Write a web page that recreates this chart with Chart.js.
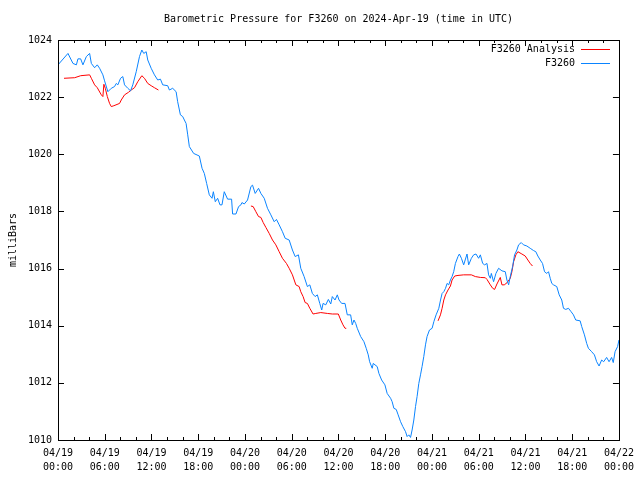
<!DOCTYPE html>
<html>
<head>
<meta charset="utf-8">
<script src="https://cdn.jsdelivr.net/npm/chart.js@4"></script>
<style>
  body { margin: 0; background: #fff; }
  canvas { display: block; }
</style>
</head>
<body>
<canvas id="myChart" width="640" height="480"></canvas>
<script>
// hours since 04/19 00:00 UTC
const blueHours = [
  0, 1.28, 1.92, 2.36, 2.56, 2.91, 3.2, 3.64, 4.06, 4.28, 4.7, 5.04, 5.34, 5.76, 5.98,
  6.4, 6.84, 7.26, 7.48, 7.68, 8.03, 8.32, 8.54, 8.96, 9.31, 9.6, 10.04, 10.46, 10.76,
  11.01, 11.32, 11.52, 11.96, 12.38, 12.8, 13.15, 13.44, 14.08, 14.3, 14.72, 15.16,
  15.36, 15.71, 16.01, 16.22, 16.44, 16.65, 16.86, 17.41, 18.14, 18.49, 18.78, 19.08,
  19.42, 19.77, 19.94, 20.19, 20.49, 20.79, 21.05, 21.34, 21.77, 22.28, 22.41, 22.84,
  23.18, 23.48, 23.61, 23.91, 24.33, 24.76, 24.97, 25.31, 25.74, 26.04, 26.47, 26.89,
  27.32, 27.75, 28.04, 28.39, 28.81, 29.16, 29.67, 30.09, 30.44, 30.86, 31.16, 31.59,
  32.01, 32.32, 32.65, 33.0, 33.29, 33.6, 33.85, 34.02, 34.37, 34.7, 35.01, 35.21,
  35.56, 35.85, 36.07, 36.41, 36.84, 37.13, 37.56, 37.77, 37.99, 38.21, 38.41, 38.85,
  39.27, 39.56, 39.82, 40.0, 40.33, 40.46, 40.97, 41.19, 41.54, 41.96, 42.25, 42.69,
  42.89, 43.11, 43.41, 43.66, 43.97, 44.26, 44.61, 44.81, 45.03, 45.25, 45.45, 45.67,
  45.89, 46.09, 46.31, 46.53, 46.73, 46.95, 47.17, 47.37, 47.68, 48.02, 48.24, 48.53,
  48.88, 49.1, 49.3, 49.52, 49.74, 49.94, 50.15, 50.37, 50.58, 50.79, 51.01, 51.34,
  51.52, 51.78, 52.07, 52.5, 52.71, 53.06, 53.35, 53.65, 53.99, 54.21, 54.51, 54.76,
  55.06, 55.27, 55.49, 55.62, 55.91, 56.21, 56.55, 56.98, 57.41, 57.62, 57.84, 58.05,
  58.35, 58.6, 58.9, 59.12, 59.46, 59.75, 60.18, 60.61, 61.04, 61.33, 61.59, 61.9,
  62.19, 62.45, 62.74, 62.96, 63.18, 63.38, 63.6, 64.02, 64.33, 64.66, 64.88, 65.17,
  65.52, 65.86, 66.16, 66.45, 67.02, 67.22, 67.57, 67.86, 68.08, 68.5, 68.85, 69.14,
  69.45, 69.78, 70.04, 70.42, 70.73, 71.06, 71.27, 71.5, 71.83, 72
];
const bluePressure = [
  1023.13, 1023.53, 1023.18, 1023.13, 1023.34, 1023.34, 1023.13, 1023.42, 1023.53, 1023.18, 1023.03, 1023.13, 1023.01, 1022.78, 1022.57,
  1022.19, 1022.31, 1022.37, 1022.48, 1022.43, 1022.66, 1022.72, 1022.43, 1022.31, 1022.22, 1022.43, 1022.89, 1023.42, 1023.65,
  1023.53, 1023.59, 1023.30, 1023.01, 1022.78, 1022.60, 1022.63, 1022.43, 1022.40, 1022.25, 1022.31, 1022.19,
  1021.84, 1021.38, 1021.32, 1021.20, 1021.08, 1020.68, 1020.27, 1020.03, 1019.94, 1019.51, 1019.33, 1018.98,
  1018.58, 1018.46, 1018.69, 1018.34, 1018.46, 1018.23, 1018.23, 1018.69, 1018.43, 1018.43, 1017.91, 1017.91,
  1018.17, 1018.23, 1018.31, 1018.26, 1018.40, 1018.87, 1018.92, 1018.63, 1018.81, 1018.63, 1018.46, 1018.11,
  1017.88, 1017.64, 1017.72, 1017.53, 1017.29, 1017.06, 1017.00, 1016.65, 1016.42, 1016.48, 1016.01, 1015.72,
  1015.37, 1015.43, 1015.13, 1015.02, 1015.08, 1014.78, 1014.55, 1014.78, 1014.73, 1014.92, 1014.76, 1015.02,
  1014.90, 1015.08, 1014.90, 1014.78, 1014.78, 1014.38, 1014.38, 1014.03, 1014.20, 1014.08, 1013.91, 1013.62,
  1013.44, 1013.21, 1012.98, 1012.74, 1012.51, 1012.68, 1012.57, 1012.33, 1012.10, 1011.93, 1011.63, 1011.46,
  1011.34, 1011.11, 1011.07, 1010.88, 1010.64, 1010.47, 1010.29, 1010.12, 1010.18, 1010.09, 1010.35, 1010.70,
  1011.17, 1011.52, 1011.98, 1012.28, 1012.57, 1012.92, 1013.33, 1013.62, 1013.85, 1013.91, 1014.14, 1014.38,
  1014.61, 1014.90, 1015.13, 1015.19, 1015.31, 1015.48, 1015.43, 1015.60, 1015.72, 1015.89, 1016.18, 1016.42,
  1016.51, 1016.36, 1016.13, 1016.51, 1016.13, 1016.36, 1016.48, 1016.51, 1016.36, 1016.48, 1016.18, 1016.13,
  1016.18, 1015.78, 1015.66, 1015.83, 1015.54, 1015.83, 1016.01, 1015.92, 1015.89, 1015.60, 1015.43, 1015.72,
  1016.07, 1016.48, 1016.65, 1016.83, 1016.91, 1016.83, 1016.79, 1016.71, 1016.63, 1016.59, 1016.44, 1016.30,
  1016.18, 1015.89, 1015.83, 1015.89, 1015.66, 1015.48, 1015.43, 1015.37, 1015.08, 1014.90, 1014.61, 1014.57,
  1014.61, 1014.49, 1014.38, 1014.20, 1014.17, 1013.97, 1013.68, 1013.38, 1013.21, 1013.09, 1012.98, 1012.74,
  1012.59, 1012.80, 1012.74, 1012.89, 1012.74, 1012.89, 1012.71, 1013.09, 1013.27, 1013.50
];

// analysis runs, null marks a gap between runs
const redHours = [
  0.77, 2.14, 2.91, 4.06, 4.28, 4.7, 5.04, 5.56, 5.76, 5.89, 6.07, 6.33, 6.62, 6.84,
  7.17, 7.9, 8.12, 8.54, 9.05, 9.4, 9.82, 10.24, 10.76, 11.1, 11.52, 11.96, 12.38, 12.89,
  18,
  24.76, 25.05, 25.4, 25.74, 26.04, 26.34, 26.68, 27.11, 27.53, 27.96, 28.39, 28.81,
  29.32, 29.67, 30.09, 30.53, 30.95, 31.16, 31.46, 31.72, 32.01, 32.32, 32.74, 33.09,
  33.73, 34.57, 35.21, 35.98, 36.29, 36.58, 36.84, 37.0,
  42,
  48.78, 49.09, 49.3, 49.52, 49.74, 50.06, 50.37, 50.58, 50.92, 51.34, 52.07, 53.06,
  53.57, 54.21, 54.85, 55.06, 55.49, 55.79, 56.04, 56.34, 56.77, 56.98, 57.28, 57.62,
  58.05, 58.26, 58.48, 58.77, 59.03, 59.54, 59.97, 60.31, 60.61, 60.9
];
const redPressure = [
  1022.66, 1022.68, 1022.75, 1022.78, 1022.66, 1022.43, 1022.33, 1022.08, 1022.02, 1022.45, 1022.31, 1022.02, 1021.78, 1021.67,
  1021.70, 1021.78, 1021.90, 1022.08, 1022.17, 1022.25, 1022.33, 1022.54, 1022.75, 1022.66, 1022.48, 1022.40, 1022.33, 1022.25,
  null,
  1018.19, 1018.17, 1017.99, 1017.82, 1017.79, 1017.61, 1017.44, 1017.23, 1017.00, 1016.83, 1016.59, 1016.36,
  1016.18, 1016.01, 1015.78, 1015.43, 1015.37, 1015.19, 1015.02, 1014.81, 1014.78, 1014.61, 1014.41, 1014.43,
  1014.46, 1014.43, 1014.41, 1014.41, 1014.20, 1014.03, 1013.91, 1013.91,
  null,
  1014.17, 1014.38, 1014.61, 1014.90, 1015.08, 1015.25, 1015.39, 1015.60, 1015.74, 1015.76, 1015.78, 1015.78,
  1015.72, 1015.69, 1015.68, 1015.62, 1015.43, 1015.31, 1015.27, 1015.46, 1015.69, 1015.43, 1015.43, 1015.50,
  1015.66, 1015.89, 1016.24, 1016.48, 1016.59, 1016.51, 1016.44, 1016.30, 1016.18, 1016.09
];

const xTickLabels = [
  ['04/19', '00:00'], ['04/19', '06:00'], ['04/19', '12:00'], ['04/19', '18:00'],
  ['04/20', '00:00'], ['04/20', '06:00'], ['04/20', '12:00'], ['04/20', '18:00'],
  ['04/21', '00:00'], ['04/21', '06:00'], ['04/21', '12:00'], ['04/21', '18:00'],
  ['04/22', '00:00']
];
const yTicks = [1010, 1012, 1014, 1016, 1018, 1020, 1022, 1024];

const FONT = '"DejaVu Sans Mono", "Liberation Mono", monospace';
const RED = '#ff0000';
const BLUE = '#0a84ff';

function toPoints(xs, ys) {
  return xs.map((x, i) => ({ x: x, y: ys[i] }));
}

// gnuplot style frame, inward ticks, title, legend, axis label
const gnuplotFrame = {
  id: 'gnuplotFrame',
  afterDraw(chart) {
    const c = chart.ctx;
    const a = chart.chartArea;
    const xs = chart.scales.x;
    const ys = chart.scales.y;
    c.save();
    c.strokeStyle = '#000';
    c.lineWidth = 1;
    c.beginPath();
    for (let h = 0; h <= 72; h += 2) {
      const px = Math.round(xs.getPixelForValue(h)) + 0.5;
      const len = h % 6 === 0 ? 6 : 3;
      c.moveTo(px, a.bottom);
      c.lineTo(px, a.bottom - len);
      c.moveTo(px, a.top);
      c.lineTo(px, a.top + len);
    }
    yTicks.forEach(v => {
      const py = Math.round(ys.getPixelForValue(v)) + 0.5;
      c.moveTo(a.left, py);
      c.lineTo(a.left + 6, py);
      c.moveTo(a.right, py);
      c.lineTo(a.right - 6, py);
    });
    c.stroke();
    c.strokeRect(Math.round(a.left) + 0.5, Math.round(a.top) + 0.5,
      Math.round(a.right - a.left), Math.round(a.bottom - a.top));

    c.fillStyle = '#000';
    c.font = '10px ' + FONT;
    c.textAlign = 'center';
    c.textBaseline = 'middle';
    c.fillText('Barometric Pressure for F3260 on 2024-Apr-19 (time in UTC)', (a.left + a.right) / 2, 19);

    c.save();
    c.translate(13, (a.top + a.bottom) / 2);
    c.rotate(-Math.PI / 2);
    c.fillText('milliBars', 0, 0);
    c.restore();

    const items = [['F3260 Analysis', RED, 49], ['F3260', BLUE, 63]];
    items.forEach(([label, color, y]) => {
      c.textAlign = 'right';
      c.fillStyle = '#000';
      c.fillText(label, 575, y);
      c.strokeStyle = color;
      c.beginPath();
      c.moveTo(581, y + 0.5);
      c.lineTo(610, y + 0.5);
      c.stroke();
    });
    c.restore();
  }
};

const ctx = document.getElementById('myChart').getContext('2d');

const data = {
  datasets: [{
    label: 'F3260',
    data: toPoints(blueHours, bluePressure),
    borderColor: BLUE,
    borderWidth: 1,
    pointRadius: 0,
    tension: 0
  }, {
    label: 'F3260 Analysis',
    data: toPoints(redHours, redPressure),
    borderColor: RED,
    borderWidth: 1,
    pointRadius: 0,
    tension: 0,
    spanGaps: false
  }]
};

const config = {
  type: 'line',
  data: data,
  options: {
    responsive: false,
    animation: false,
    layout: {
      padding: { top: 40, right: 20, left: 0, bottom: 0 }
    },
    plugins: {
      legend: { display: false },
      tooltip: { enabled: false },
      title: { display: false }
    },
    scales: {
      x: {
        type: 'linear',
        min: 0,
        max: 72,
        afterFit: s => { s.height = 40; },
        afterBuildTicks: s => {
          s.ticks = xTickLabels.map((_, i) => ({ value: i * 6 }));
        },
        grid: { display: false, drawTicks: false },
        border: { display: false },
        ticks: {
          autoSkip: false,
          maxRotation: 0,
          padding: 6,
          color: '#000',
          font: { family: FONT, size: 10, lineHeight: 1.4 },
          callback: (v) => xTickLabels[Math.round(v / 6)]
        }
      },
      y: {
        min: 1010,
        max: 1024,
        afterFit: s => { s.width = 58; },
        afterBuildTicks: s => {
          s.ticks = yTicks.map(v => ({ value: v }));
        },
        grid: { display: false, drawTicks: false },
        border: { display: false },
        ticks: {
          padding: 6,
          color: '#000',
          font: { family: FONT, size: 10 },
          callback: (v) => String(v)
        }
      }
    }
  },
  plugins: [gnuplotFrame]
};

const myChart = new Chart(ctx, config);
</script>
</body>
</html>
